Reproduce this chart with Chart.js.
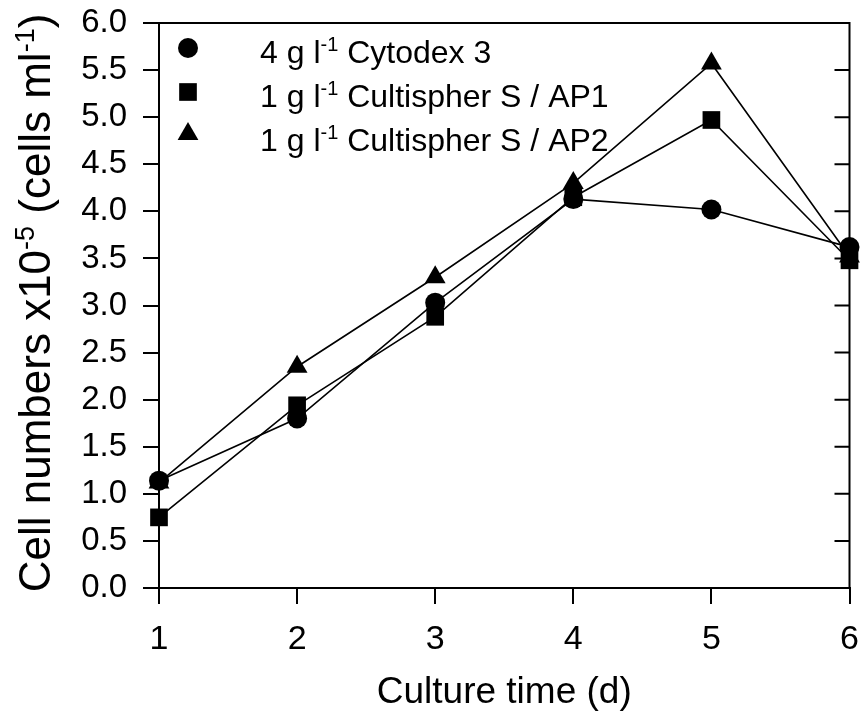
<!DOCTYPE html>
<html>
<head>
<meta charset="utf-8">
<script src="https://cdn.jsdelivr.net/npm/chart.js@4/dist/chart.umd.min.js"></script>
<style>
  html, body { margin: 0; padding: 0; background: #fff; }
</style>
</head>
<body>
<canvas id="lineChart" width="862" height="724"></canvas>
<script>
// culture days
const days = [1, 2, 3, 4, 5, 6];

// cell numbers x10^-5 (cells/ml)
const cytodex3 = [1.14, 1.80, 3.03, 4.13, 4.02, 3.62];
const cultispherAP1 = [0.75, 1.94, 2.88, 4.15, 4.97, 3.48];
const cultispherAP2 = [1.12, 2.35, 3.30, 4.30, 5.57, 3.52];

// legend text: dose + carrier
const doses = ['4', '1', '1'];
const carriers = ['Cytodex 3', 'Cultispher S / AP1', 'Cultispher S / AP2'];
const markers = ['circle', 'rect', 'triangle'];

const yTickValues = [0, 0.5, 1, 1.5, 2, 2.5, 3, 3.5, 4, 4.5, 5, 5.5, 6];

const FONT = '"Liberation Sans", Arial, sans-serif';

function toPoints(vals) {
  return days.map((d, i) => ({ x: d, y: vals[i] }));
}

// draws text made of [string, isSuperscript] pieces
function drawParts(ctx, parts, x, y, size) {
  let cx = x;
  parts.forEach(p => {
    const s = p[1] ? Math.round(size * 0.62) : size;
    ctx.font = s + 'px ' + FONT;
    ctx.fillText(p[0], cx, p[1] ? y - size * 0.36 : y);
    cx += ctx.measureText(p[0]).width;
  });
}
function partsWidth(ctx, parts, size) {
  let w = 0;
  parts.forEach(p => {
    const s = p[1] ? Math.round(size * 0.62) : size;
    ctx.font = s + 'px ' + FONT;
    w += ctx.measureText(p[0]).width;
  });
  return w;
}

const framePlugin = {
  id: 'frame',
  beforeDatasetsDraw(chart) {
    const { ctx, chartArea: a, scales } = chart;
    ctx.save();
    ctx.strokeStyle = '#000';
    ctx.lineWidth = 2;
    ctx.beginPath();
    ctx.moveTo(a.left, a.top);
    ctx.lineTo(a.right, a.top);
    ctx.lineTo(a.right, a.bottom);
    // inward ticks on the right side
    yTickValues.forEach(v => {
      const py = scales.y.getPixelForValue(v);
      ctx.moveTo(a.right, py);
      ctx.lineTo(a.right - 15, py);
    });
    ctx.stroke();
    ctx.restore();
  },
  afterDraw(chart) {
    const { ctx, chartArea: a } = chart;
    ctx.save();
    ctx.fillStyle = '#000';
    ctx.textBaseline = 'alphabetic';
    ctx.textAlign = 'left';

    // legend inside the plot
    const rowY = [48, 92, 134];
    const baseY = [63, 107, 151];
    for (let i = 0; i < carriers.length; i++) {
      Chart.helpers.drawPoint(ctx, {
        pointStyle: markers[i], radius: i === 0 ? 10 : (i === 1 ? 12.5 : 12), rotation: 0, borderWidth: 0
      }, a.left + 29, rowY[i]);
      drawParts(ctx, [[doses[i] + ' g l', false], ['-1', true], [' ' + carriers[i], false]], a.left + 101, baseY[i], 32);
    }

    // rotated y axis title with superscripts
    const title = [['Cell numbers x10', false], ['-5', true], [' (cells ml', false], ['-1', true], [')', false]];
    const size = 44;
    const w = partsWidth(ctx, title, size);
    ctx.translate(50, 303);
    ctx.rotate(-Math.PI / 2);
    drawParts(ctx, title, -w / 2, 0, size);
    ctx.restore();
  }
};

const config = {
  type: 'line',
  data: {
    datasets: [{
      label: '4 g l-1 Cytodex 3',
      data: toPoints(cytodex3),
      pointStyle: 'circle',
      pointRadius: 10
    }, {
      label: '1 g l-1 Cultispher S / AP1',
      data: toPoints(cultispherAP1),
      pointStyle: 'rect',
      pointRadius: 12.5
    }, {
      label: '1 g l-1 Cultispher S / AP2',
      data: toPoints(cultispherAP2),
      pointStyle: 'triangle',
      pointRadius: 12
    }].map(ds => Object.assign(ds, {
      borderColor: '#000',
      backgroundColor: '#000',
      pointBackgroundColor: '#000',
      pointBorderWidth: 0,
      borderWidth: 1.6,
      tension: 0,
      clip: false
    }))
  },
  options: {
    responsive: false,
    animation: false,
    events: [],
    layout: { padding: { top: 23, right: -8, left: 0, bottom: 0 } },
    plugins: {
      legend: { display: false },
      tooltip: { enabled: false }
    },
    scales: {
      x: {
        type: 'linear',
        min: 1,
        max: 6,
        afterFit(scale) {
          scale.height = 136;
          scale.paddingLeft = 0;
          scale.paddingRight = 0;
        },
        ticks: {
          stepSize: 1,
          color: '#000',
          padding: 15,
          font: { family: FONT, size: 34 }
        },
        grid: { drawOnChartArea: false, drawTicks: true, tickLength: 16, color: '#000', lineWidth: 2 },
        border: { display: true, color: '#000', width: 2 },
        title: {
          display: true,
          text: 'Culture time (d)',
          color: '#000',
          font: { family: FONT, size: 37 },
          padding: { top: 0, bottom: 9 }
        }
      },
      y: {
        min: 0,
        max: 6,
        afterFit(scale) {
          scale.width = 159;
          scale.paddingTop = 0;
          scale.paddingBottom = 0;
        },
        ticks: {
          stepSize: 0.5,
          color: '#000',
          padding: 16,
          font: { family: FONT, size: 33 },
          callback: v => v.toFixed(1)
        },
        grid: { drawOnChartArea: false, drawTicks: true, tickLength: 16, color: '#000', lineWidth: 2 },
        border: { display: true, color: '#000', width: 2 }
      }
    }
  },
  plugins: [framePlugin]
};

const myChart = new Chart(document.getElementById('lineChart'), config);
</script>
</body>
</html>
